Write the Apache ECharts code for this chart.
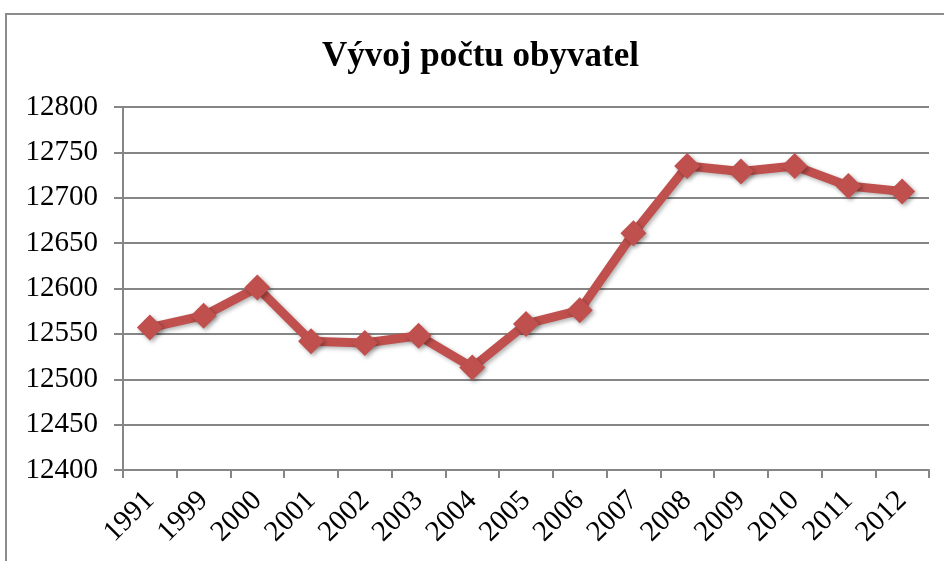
<!DOCTYPE html>
<html><head><meta charset="utf-8">
<script src="https://cdn.jsdelivr.net/npm/echarts@6/dist/echarts.min.js"></script>
<style>html,body{margin:0;padding:0;background:#fff}#c{width:944px;height:561px}</style>
</head><body><div id="c"></div>
<script>
var titleText = 'Vývoj počtu obyvatel';
var categories = ['1991','1999','2000','2001','2002','2003','2004','2005','2006','2007','2008','2009','2010','2011','2012'];
var population = [12557,12570,12601,12542,12540,12548,12513,12561,12576,12661,12735,12729,12735,12713,12707];
var yMin = 12400, yMax = 12800, yStep = 50;
var font = '"Liberation Serif", "Times New Roman", serif';
var chart = echarts.init(document.getElementById('c'));
chart.setOption({
  animation:false,
  backgroundColor:'#fff',
  graphic:[{type:'rect',shape:{x:6,y:14,width:1200,height:1200},style:{fill:'none',stroke:'#8c8c8c',lineWidth:2}},
    {type:'text',left:322,top:39,style:{text:titleText,font:'bold 35px "Liberation Serif", serif',fill:'#000'}}],
  grid:{left:123,right:15,top:107,bottom:91,containLabel:false},
  xAxis:{type:'category',data:categories,boundaryGap:true,
    axisLine:{lineStyle:{color:'#868686',width:2}},
    axisTick:{show:true,alignWithLabel:false,length:8,lineStyle:{color:'#868686',width:2}},
    axisLabel:{rotate:45,fontFamily:font,fontSize:29,color:'#000',margin:26,interval:0}},
  yAxis:{type:'value',min:yMin,max:yMax,interval:yStep,
    axisLine:{show:true,lineStyle:{color:'#868686',width:2}},
    axisTick:{show:true,length:9,lineStyle:{color:'#868686',width:2}},
    splitLine:{show:true,lineStyle:{color:'#868686',width:2}},
    axisLabel:{fontFamily:font,fontSize:29,color:'#000',margin:25,formatter:function(v){return String(v);}}},
  series:[{type:'line',data:population,symbol:'diamond',symbolSize:26,
    lineStyle:{color:'#C0504D',width:9,shadowBlur:4,shadowOffsetX:2,shadowOffsetY:2,shadowColor:'rgba(0,0,0,0.3)'},
    itemStyle:{color:'#C0504D',shadowBlur:4,shadowOffsetX:2,shadowOffsetY:2,shadowColor:'rgba(0,0,0,0.35)'}}]
});
</script></body></html>
